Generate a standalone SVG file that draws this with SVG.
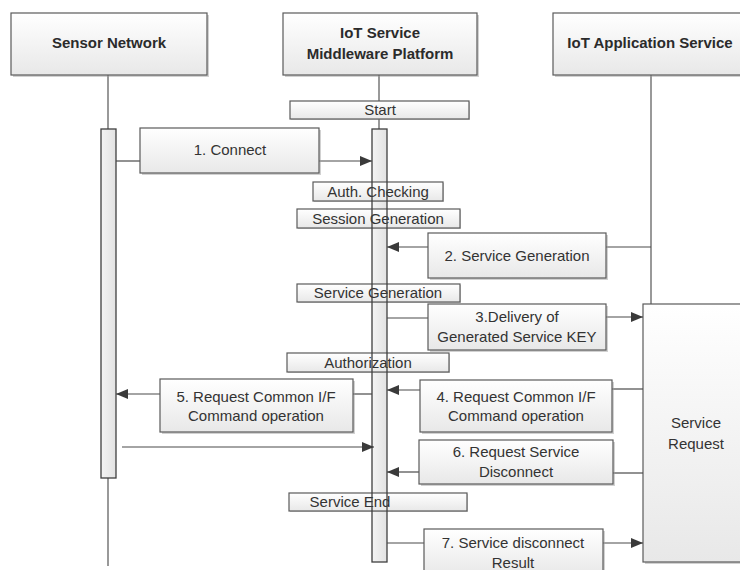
<svg xmlns="http://www.w3.org/2000/svg" width="740" height="570" viewBox="0 0 740 570">
  <defs>
    <linearGradient id="boxFill" x1="0" y1="0" x2="0" y2="1">
      <stop offset="0" stop-color="#ffffff"/>
      <stop offset="1" stop-color="#e8e8e8"/>
    </linearGradient>
    <linearGradient id="barFill" x1="0" y1="0" x2="1" y2="0">
      <stop offset="0" stop-color="#f4f4f4"/>
      <stop offset="1" stop-color="#e2e2e2"/>
    </linearGradient>
    <marker id="arrow" viewBox="0 0 12 10" refX="12" refY="5" markerWidth="12" markerHeight="10" markerUnits="userSpaceOnUse" orient="auto">
      <path d="M0,0 L12,5 L0,10 z" fill="#3a3a3a"/>
    </marker>
  </defs>
  <style>
    .box { fill: url(#boxFill); stroke: #5a5a5a; stroke-width: 1.2; }
    .shadow { fill: #9a9a9a; opacity: 0.45; }
    .bar { fill: url(#barFill); stroke: none; }
    .barEdge { fill: none; stroke: #3f3f3f; stroke-width: 1.3; }
    .life { stroke: #555; stroke-width: 1.2; fill: none; }
    .conn { stroke: #4a4a4a; stroke-width: 1.2; fill: none; }
    .arr { marker-end: url(#arrow); }
    .head { font-family: "Liberation Sans", Arial, sans-serif; font-size: 15px; font-weight: bold; fill: #2b2b2b; text-anchor: middle; }
    .txt { font-family: "Liberation Sans", Arial, sans-serif; font-size: 15px; fill: #333; text-anchor: middle; }
  </style>

  <rect width="740" height="570" fill="#ffffff"/>

  <!-- lifelines -->
  <g id="lifelines">
    <line class="life" x1="108" y1="75" x2="108" y2="129"/>
    <line class="life" x1="108" y1="478" x2="108" y2="566"/>
    <line class="life" x1="379" y1="75" x2="379" y2="129"/>
    <line class="life" x1="651" y1="75" x2="651" y2="304"/>
  </g>

  <!-- participant headers -->
  <g id="sensor-network">
    <rect class="shadow" x="13" y="15" width="196" height="62"/>
    <rect class="box" x="11" y="13" width="196" height="62"/>
    <text class="head" x="109" y="48">Sensor Network</text>
  </g>
  <g id="middleware-platform">
    <rect class="shadow" x="285" y="15" width="194" height="62"/>
    <rect class="box" x="283" y="13" width="194" height="62"/>
    <text class="head" x="380" y="38">IoT Service</text>
    <text class="head" x="380" y="59">Middleware Platform</text>
  </g>
  <g id="application-service">
    <rect class="shadow" x="555" y="15" width="200" height="62"/>
    <rect class="box" x="553" y="13" width="200" height="62"/>
    <text class="head" x="650" y="48">IoT Application Service</text>
  </g>

  <!-- activation bars (fill) -->
  <g id="sensor-activation">
    <rect class="bar" x="101" y="129" width="15" height="349"/>
    <rect class="barEdge" x="101" y="129" width="15" height="349"/>
  </g>
  <g id="middleware-activation-fill">
    <rect class="bar" x="372" y="129" width="15" height="433"/>
  </g>

  <!-- state labels on the middleware lifeline -->
  <g id="state-start">
    <rect class="shadow" x="291" y="102" width="179" height="18"/>
    <rect class="box" x="290" y="101" width="179" height="18"/>
    <text class="txt" x="380" y="115">Start</text>
  </g>
  <g id="state-auth-checking">
    <rect class="shadow" x="314" y="183" width="130" height="19"/>
    <rect class="box" x="313" y="182" width="130" height="19"/>
    <text class="txt" x="378" y="197">Auth. Checking</text>
  </g>
  <g id="state-session-generation">
    <rect class="shadow" x="298" y="210" width="163" height="19"/>
    <rect class="box" x="297" y="209" width="163" height="19"/>
    <text class="txt" x="378" y="224">Session Generation</text>
  </g>
  <g id="state-service-generation">
    <rect class="shadow" x="298" y="285" width="163" height="18"/>
    <rect class="box" x="297" y="284" width="163" height="18"/>
    <text class="txt" x="378" y="298">Service Generation</text>
  </g>
  <g id="state-authorization">
    <rect class="shadow" x="288" y="354" width="162" height="19"/>
    <rect class="box" x="287" y="353" width="162" height="19"/>
    <text class="txt" x="368" y="368">Authorization</text>
  </g>
  <g id="state-service-end">
    <rect class="shadow" x="290" y="494" width="178" height="18"/>
    <rect class="box" x="289" y="493" width="178" height="18"/>
    <text class="txt" x="350" y="507">Service End</text>
  </g>

  <!-- middleware activation outline drawn over the state labels -->
  <g id="middleware-activation">
    <rect class="barEdge" x="372" y="129" width="15" height="433"/>
  </g>

  <!-- service request block -->
  <g id="service-request">
    <rect class="shadow" x="645" y="306" width="110" height="258"/>
    <rect class="box" x="643" y="304" width="110" height="258"/>
    <text class="txt" x="696" y="428">Service</text>
    <text class="txt" x="696" y="449">Request</text>
  </g>

  <!-- connectors -->
  <g id="connectors">
    <line class="conn" x1="116" y1="161" x2="140" y2="161"/>
    <line class="conn arr" x1="319" y1="161" x2="372" y2="161"/>

    <line class="conn" x1="651" y1="247" x2="606" y2="247"/>
    <line class="conn arr" x1="428" y1="247" x2="387" y2="247"/>

    <line class="conn" x1="387" y1="318" x2="428" y2="318"/>
    <line class="conn arr" x1="606" y1="317" x2="643" y2="317"/>

    <line class="conn" x1="643" y1="389" x2="612" y2="389"/>
    <line class="conn arr" x1="420" y1="390" x2="387" y2="390"/>

    <line class="conn" x1="372" y1="394" x2="353" y2="394"/>
    <line class="conn arr" x1="160" y1="394" x2="116" y2="394"/>

    <line class="conn arr" x1="122" y1="447" x2="374" y2="447"/>

    <line class="conn" x1="643" y1="473" x2="613" y2="473"/>
    <line class="conn arr" x1="419" y1="472" x2="387" y2="472"/>

    <line class="conn" x1="387" y1="543" x2="424" y2="543"/>
    <line class="conn arr" x1="603" y1="543" x2="643" y2="543"/>
  </g>

  <!-- message labels -->
  <g id="msg-1-connect">
    <rect class="shadow" x="142" y="130" width="179" height="45"/>
    <rect class="box" x="140" y="128" width="179" height="45"/>
    <text class="txt" x="230" y="155">1. Connect</text>
  </g>
  <g id="msg-2-service-generation">
    <rect class="shadow" x="430" y="235" width="178" height="45"/>
    <rect class="box" x="428" y="233" width="178" height="45"/>
    <text class="txt" x="517" y="261">2. Service Generation</text>
  </g>
  <g id="msg-3-delivery">
    <rect class="shadow" x="430" y="306" width="178" height="46"/>
    <rect class="box" x="428" y="304" width="178" height="46"/>
    <text class="txt" x="517" y="322">3.Delivery of</text>
    <text class="txt" x="517" y="342">Generated Service KEY</text>
  </g>
  <g id="msg-4-request-common">
    <rect class="shadow" x="422" y="382" width="192" height="52"/>
    <rect class="box" x="420" y="380" width="192" height="52"/>
    <text class="txt" x="516" y="402">4. Request Common I/F</text>
    <text class="txt" x="516" y="421">Command operation</text>
  </g>
  <g id="msg-5-request-common">
    <rect class="shadow" x="162" y="381" width="193" height="53"/>
    <rect class="box" x="160" y="379" width="193" height="53"/>
    <text class="txt" x="256" y="402">5. Request Common I/F</text>
    <text class="txt" x="256" y="421">Command operation</text>
  </g>
  <g id="msg-6-disconnect">
    <rect class="shadow" x="421" y="442" width="194" height="44"/>
    <rect class="box" x="419" y="440" width="194" height="44"/>
    <text class="txt" x="516" y="457">6. Request Service</text>
    <text class="txt" x="516" y="477">Disconnect</text>
  </g>
  <g id="msg-7-disconnect-result">
    <rect class="shadow" x="426" y="531" width="179" height="46"/>
    <rect class="box" x="424" y="529" width="179" height="46"/>
    <text class="txt" x="513" y="548">7. Service disconnect</text>
    <text class="txt" x="513" y="568">Result</text>
  </g>
</svg>
